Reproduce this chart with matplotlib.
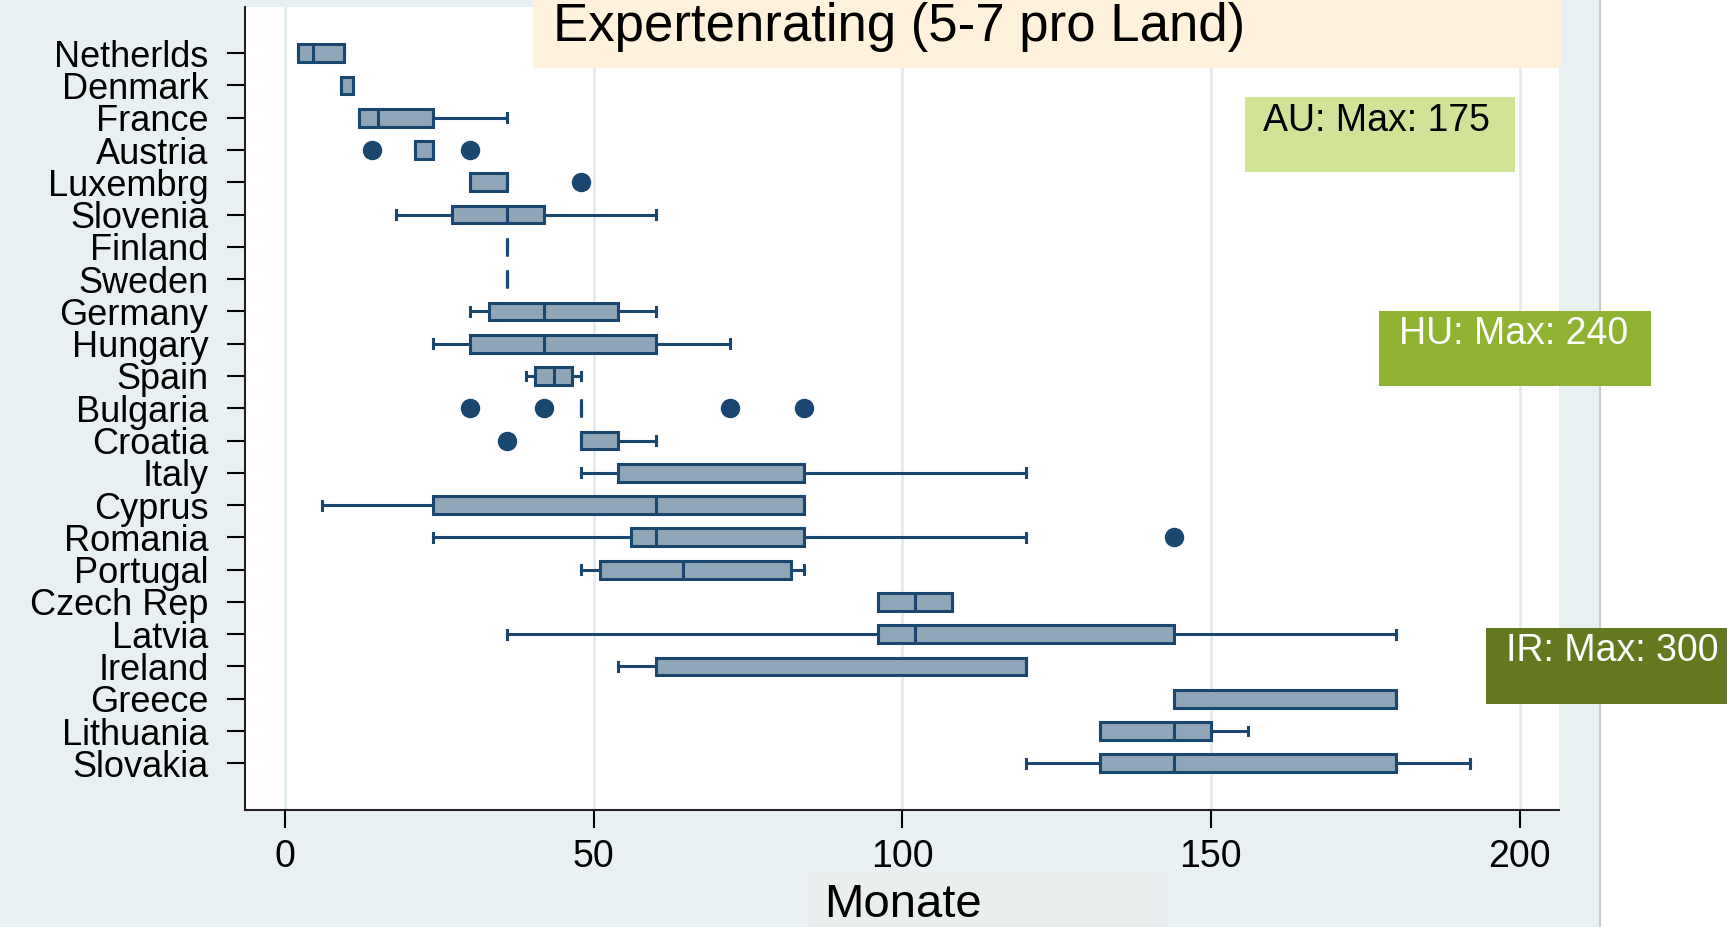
import matplotlib
matplotlib.use("Agg")
import matplotlib.pyplot as plt
from matplotlib.patches import Rectangle
from matplotlib.lines import Line2D

# Daten (Monate) pro Land
laender = ["Netherlds", "Denmark", "France", "Austria", "Luxembrg", "Slovenia",
           "Finland", "Sweden", "Germany", "Hungary", "Spain", "Bulgaria",
           "Croatia", "Italy", "Cyprus", "Romania", "Portugal", "Czech Rep",
           "Latvia", "Ireland", "Greece", "Lithuania", "Slovakia"]
w_min = [2, 9, 12, 21, 30, 18, 36, 36, 30, 24, 39, 48, 48, 48, 6, 24, 48, 96, 36, 54, 144, 132, 120]
q1 = [2, 9, 12, 21, 30, 27, 36, 36, 33, 30, 40.5, 48, 48, 54, 24, 56, 51, 96, 96, 60, 144, 132, 132]
median = [4.5, 9, 15, 24, 36, 36, 36, 36, 42, 42, 43.5, 48, 48, 84, 60, 60, 64.5, 102, 102, 120, 180, 144, 144]
q3 = [9.5, 11, 24, 24, 36, 42, 36, 36, 54, 60, 46.5, 48, 54, 84, 84, 84, 82, 108, 144, 120, 180, 150, 180]
w_max = [9.5, 11, 36, 24, 36, 60, 36, 36, 60, 72, 48, 48, 60, 120, 84, 120, 84, 108, 180, 120, 180, 156, 192]
ausreisser = [[], [], [], [14, 30], [48], [], [], [], [], [], [], [30, 42, 72, 84],
              [36], [], [], [144], [], [], [], [], [], [], []]

x_ticks = [0, 50, 100, 150, 200]
titel = "Expertenrating (5-7 pro Land)"
hinweise = ["AU: Max: 175", "HU: Max: 240", "IR: Max: 300"]

W, H = 1727, 927
navy = "#1a476f"
fill = "#8fa5b8"
bg = "#e9f0f2"

plt.rcParams['font.family'] = ['Liberation Sans', 'DejaVu Sans']

fig = plt.figure(figsize=(W / 100, H / 100), dpi=100, facecolor=bg)


def px(x0, y0, x1, y1):
    # Pixel (oben links) -> Figure-Bruchteile
    return (x0 / W, 1 - y1 / H, (x1 - x0) / W, (y1 - y0) / H)


# weisser Bereich rechts + graue Trennlinie
r = px(1600, 0, W, H)
fig.add_artist(Rectangle(r[:2], *r[2:], transform=fig.transFigure,
                         facecolor="white", edgecolor="none", zorder=0))
fig.add_artist(Line2D([1600 / W, 1600 / W], [0, 1], transform=fig.transFigure,
                      color="#c8cccd", lw=1.5, zorder=0))
# Hintergrund hinter "Monate"
r = px(807, 870, 1165, 927)
fig.add_artist(Rectangle(r[:2], *r[2:], transform=fig.transFigure,
                         facecolor="#ebeeee", edgecolor="none", zorder=0))

ax = fig.add_axes([244.5 / W, 1 - 809.5 / H, (1559 - 244.5) / W, (809.5 - 7) / H])
ax.set_facecolor("white")

stats = []
for i, name in enumerate(laender):
    stats.append(dict(label=name, whislo=w_min[i], q1=q1[i], med=median[i],
                      q3=q3[i], whishi=w_max[i], fliers=ausreisser[i]))

ax.bxp(stats, positions=range(len(laender)), vert=False, widths=0.55,
       patch_artist=True, showfliers=True,
       boxprops=dict(facecolor=fill, edgecolor=navy, linewidth=2.2),
       medianprops=dict(color=navy, linewidth=2.2),
       whiskerprops=dict(color=navy, linewidth=2.2),
       capprops=dict(color=navy, linewidth=2.2),
       flierprops=dict(marker="o", markerfacecolor=navy, markeredgecolor=navy,
                       markersize=13))

ax.set_xlim(-6.6, 206.4)
ax.set_ylim(23.43, -1.43)
ax.set_xticks(x_ticks)
ax.set_xticklabels([str(t) for t in x_ticks], fontsize=27)
ax.set_yticks(range(len(laender)))
ax.set_yticklabels(laender, fontsize=26)
ax.tick_params(axis="y", length=13, width=1.5, pad=13)
ax.tick_params(axis="x", length=13, width=1.5, pad=8)
ax.xaxis.grid(True, color="#e2ebef", linewidth=2)
ax.set_axisbelow(True)
for s in ["top", "right"]:
    ax.spines[s].set_visible(False)
for s in ["left", "bottom"]:
    ax.spines[s].set_linewidth(1.5)
    ax.spines[s].set_color("#222222")

fig.text(903 / W, 1 - 905 / H, "Monate", fontsize=34, ha="center", va="center")

# Titelbox
r = px(533, 0, 1561, 68)
fig.add_artist(Rectangle(r[:2], *r[2:], transform=fig.transFigure,
                         facecolor="#fff2dc", edgecolor="none", zorder=3))
fig.text(553 / W, 1 - 27 / H, titel, fontsize=38, ha="left", va="center", zorder=4)

# Hinweisboxen
boxen = [((1245, 97, 1515, 172), "#d1e397", "black", (1263, 121)),
         ((1379, 311, 1651, 386), "#8fb330", "white", (1399, 334)),
         ((1486, 628, W, 704), "#63781f", "white", (1506, 651))]
for (b, fc, tc, tpos), txt in zip(boxen, hinweise):
    r = px(*b)
    fig.add_artist(Rectangle(r[:2], *r[2:], transform=fig.transFigure,
                             facecolor=fc, edgecolor="none", zorder=3))
    fig.text(tpos[0] / W, 1 - tpos[1] / H, txt, fontsize=27, color=tc,
             ha="left", va="center", zorder=4)

fig.savefig("out.png", dpi=100, facecolor=fig.get_facecolor())
